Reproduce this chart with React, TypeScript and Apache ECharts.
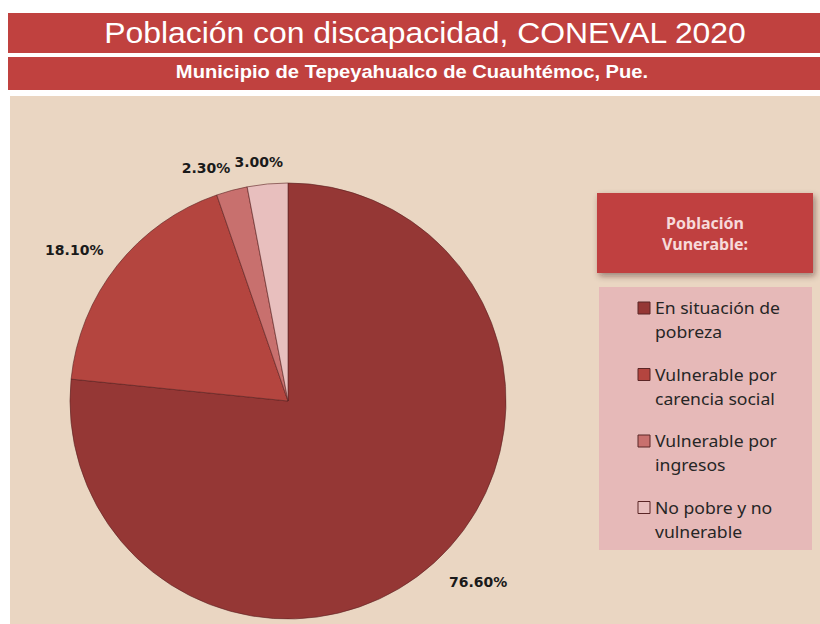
import React, { useEffect, useRef } from "react";
import * as echarts from "echarts";

const categories = [
  "En situación de pobreza",
  "Vulnerable por carencia social",
  "Vulnerable por ingresos",
  "No pobre y no vulnerable",
];
const legendLines = [
  ["En situación de", "pobreza"],
  ["Vulnerable por", "carencia social"],
  ["Vulnerable por", "ingresos"],
  ["No pobre y no", "vulnerable"],
];
const values = [76.6, 18.1, 2.3, 3.0];
const colors = ["#953735", "#B4453F", "#C8706E", "#E8BFBE"];
const titleText = "Población con discapacidad, CONEVAL 2020";
const subtitleText = "Municipio de Tepeyahualco de Cuauhtémoc, Pue.";
const legendTitle = "Población\nVunerable:";

export default function App() {
  const ref = useRef<HTMLDivElement>(null);
  useEffect(() => {
    if (!ref.current) return;
    const chart = echarts.init(ref.current, null, { renderer: "svg" });
    const legendY0 = 308;
    const legendStep = 66.5;
    const legendGraphics: any[] = [];
    legendLines.forEach((lines, i) => {
      const y = legendY0 + i * legendStep;
      legendGraphics.push({
        type: "rect",
        shape: { x: 638, y: y - 6, width: 12, height: 12 },
        style: { fill: colors[i], stroke: "#5a2626", lineWidth: 1 },
        z: 5,
      });
      legendGraphics.push({
        type: "text",
        x: 655,
        y: y - 12,
        scaleX: 1.1,
        style: {
          text: lines.join("\n"),
          fill: "#262626",
          font: '16px "Noto Sans"',
          lineHeight: 24,
          textAlign: "left",
          textVerticalAlign: "top",
        },
        z: 5,
      });
    });
    const labelNudge = [
      [-7, 1],
      [11, 0],
      [10, 2],
      [23, 3],
    ];
    chart.setOption({
      animation: false,
      backgroundColor: "#ffffff",
      graphic: [
        {
          type: "rect",
          shape: { x: 8, y: 13, width: 812, height: 40 },
          style: { fill: "#C0413F" },
          z: -10,
        },
        {
          type: "rect",
          shape: { x: 8, y: 57, width: 812, height: 33 },
          style: { fill: "#C0413F" },
          z: -10,
        },
        {
          type: "rect",
          shape: { x: 10, y: 96, width: 810, height: 528 },
          style: { fill: "#EAD6C2" },
          z: -10,
        },
        {
          type: "text",
          x: 425,
          y: 33,
          scaleX: 1.1,
          style: {
            text: titleText,
            fill: "#ffffff",
            font: '29px "Liberation Sans", Arial, sans-serif',
            textAlign: "center",
            textVerticalAlign: "middle",
          },
          z: 2,
        },
        {
          type: "text",
          x: 412,
          y: 72,
          scaleX: 1.12,
          style: {
            text: subtitleText,
            fill: "#ffffff",
            font: 'bold 18px "Liberation Sans", Arial, sans-serif',
            textAlign: "center",
            textVerticalAlign: "middle",
          },
          z: 2,
        },
        {
          type: "rect",
          shape: { x: 597, y: 193, width: 216, height: 80 },
          style: {
            fill: "#C0413F",
            shadowBlur: 6,
            shadowOffsetX: 2,
            shadowOffsetY: 3,
            shadowColor: "rgba(60,30,20,0.45)",
          },
          z: 1,
        },
        {
          type: "text",
          x: 705,
          y: 233,
          style: {
            text: legendTitle,
            fill: "#F7DADA",
            font: 'bold 16px "Noto Sans"',
            lineHeight: 21,
            textAlign: "center",
            textVerticalAlign: "middle",
          },
          z: 2,
        },
        {
          type: "rect",
          shape: { x: 599, y: 287, width: 213, height: 263 },
          style: { fill: "#E6B9B8" },
          z: 1,
        },
        ...legendGraphics,
      ],
      series: [
        {
          type: "pie",
          center: [288, 401],
          radius: 218,
          startAngle: 90,
          clockwise: true,
          avoidLabelOverlap: false,
          data: categories.map((name, i) => ({
            name,
            value: values[i],
            itemStyle: { color: colors[i] },
          })),
          itemStyle: { borderColor: "#5a2222", borderWidth: 0.6 },
          label: {
            show: true,
            position: "outside",
            formatter: (p: any) => p.value.toFixed(2) + "%",
            color: "#1a1a1a",
            fontWeight: "bold",
            fontSize: 14,
            fontFamily: '"DejaVu Sans", sans-serif',
          },
          labelLine: { show: false, length: 25, length2: 0 },
          labelLayout: (p: any) => ({
            dx: labelNudge[p.dataIndex][0],
            dy: labelNudge[p.dataIndex][1],
          }),
          emphasis: { disabled: true },
        },
      ],
    });
    return () => chart.dispose();
  }, []);
  return (
    <div
      ref={ref}
      style={{ position: "absolute", left: 0, top: 0, width: 820, height: 624 }}
    />
  );
}
